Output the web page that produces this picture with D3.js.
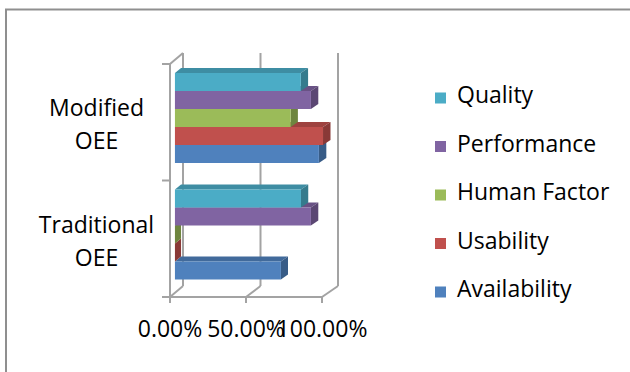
<!DOCTYPE html>
<html>
<head>
<meta charset="utf-8">
<script src="https://cdn.jsdelivr.net/npm/d3@7"></script>
<style>
  html, body { margin: 0; padding: 0; background: #fff; }
  svg { display: block; }
  text { font-family: "Open Sans", "Noto Sans", sans-serif; fill: #000; }
</style>
</head>
<body>
<svg id="chart" width="630" height="372"></svg>
<script>
// ---- data ----
const categories = ["Modified OEE", "Traditional OEE"];           // top to bottom
const seriesNames = ["Quality", "Performance", "Human Factor", "Usability", "Availability"]; // top to bottom
const quality      = [0.822, 0.823];
const performance  = [0.888, 0.888];
const humanFactor  = [0.756, 0.0];
const usability    = [0.967, 0.0];
const availability = [0.94, 0.692];
const xTicks = [0, 0.5, 1];
const xTickLabels = ["0.00%", "50.00%", "100.00%"];
const colors = ["#4BACC6", "#8064A2", "#9BBB59", "#C0504D", "#4F81BD"];

const seriesValues = [quality, performance, humanFactor, usability, availability];

const svg = d3.select("#chart");
const fontSize = 23;

// outer frame (top and left edges visible)
svg.append("line").attr("x1", 5).attr("y1", 9.5).attr("x2", 630).attr("y2", 9.5)
  .attr("stroke", "#8f8f8f").attr("stroke-width", 2);
svg.append("line").attr("x1", 6).attr("y1", 9).attr("x2", 6).attr("y2", 372)
  .attr("stroke", "#8f8f8f").attr("stroke-width", 2);

// ---- scales ----
const x = d3.scaleLinear().domain([0, 1]).range([170, 322]);
const yCat = d3.scaleBand().domain(categories).range([64, 297]);
const ySer = d3.scaleBand().domain(seriesNames).range([0, yCat.bandwidth()])
  .paddingInner(0).paddingOuter(0.736);

// depth projection
const depthDX = 13, depthDY = -11, persp = 3;
const px = (v, z) => x(v) + z * (depthDX + persp * v);
const py = (y, z) => y + z * depthDY;

const gridColor = "#a3a3a3";
const yTop = 64, yBot = 297;

const g = svg.append("g");

// back wall vertical gridlines
xTicks.forEach(t => {
  g.append("line")
    .attr("x1", px(t, 1)).attr("y1", py(yBot, 1))
    .attr("x2", px(t, 1)).attr("y2", py(yTop, 1))
    .attr("stroke", gridColor).attr("stroke-width", 2);
  // floor diagonals
  g.append("line")
    .attr("x1", px(t, 0)).attr("y1", yBot)
    .attr("x2", px(t, 1)).attr("y2", py(yBot, 1))
    .attr("stroke", gridColor).attr("stroke-width", 2);
});
// left wall top edge
g.append("line")
  .attr("x1", px(0, 0)).attr("y1", yTop)
  .attr("x2", px(0, 1)).attr("y2", py(yTop, 1))
  .attr("stroke", gridColor).attr("stroke-width", 2);

// front axes
g.append("line").attr("x1", x(0)).attr("y1", yTop).attr("x2", x(0)).attr("y2", yBot)
  .attr("stroke", gridColor).attr("stroke-width", 2);
g.append("line").attr("x1", 162).attr("y1", yBot).attr("x2", x(1)).attr("y2", yBot)
  .attr("stroke", gridColor).attr("stroke-width", 2);
// category ticks
const catBounds = [yTop].concat(categories.map(c => yCat(c) + yCat.bandwidth()));
catBounds.forEach(b => {
  g.append("line").attr("x1", 162).attr("y1", b).attr("x2", x(0)).attr("y2", b)
    .attr("stroke", gridColor).attr("stroke-width", 2);
});
// value ticks
xTicks.forEach(t => {
  g.append("line").attr("x1", x(t)).attr("y1", yBot).attr("x2", x(t)).attr("y2", yBot + 6)
    .attr("stroke", gridColor).attr("stroke-width", 2);
});

// ---- bars ----
const z0 = 0.38, z1 = 0.85;
const poly = pts => pts.map(p => p.join(",")).join(" ");

categories.forEach((cat, ci) => {
  // draw bottom series first so upper bars overlap correctly
  for (let si = seriesNames.length - 1; si >= 0; si--) {
    const v = seriesValues[si][ci];
    const yT = yCat(cat) + ySer(seriesNames[si]);
    const yB = yT + ySer.bandwidth();
    const c = d3.color(colors[si]);
    const front = [[px(0, z0), py(yT, z0)], [px(v, z0), py(yT, z0)], [px(v, z0), py(yB, z0)], [px(0, z0), py(yB, z0)]];
    const top = [[px(0, z0), py(yT, z0)], [px(0, z1), py(yT, z1)], [px(v, z1), py(yT, z1)], [px(v, z0), py(yT, z0)]];
    const side = [[px(v, z0), py(yT, z0)], [px(v, z1), py(yT, z1)], [px(v, z1), py(yB, z1)], [px(v, z0), py(yB, z0)]];
    g.append("polygon").attr("points", poly(top)).attr("fill", c.darker(0.55).formatHex());
    g.append("polygon").attr("points", poly(side)).attr("fill", c.darker(0.95).formatHex());
    g.append("polygon").attr("points", poly(front)).attr("fill", colors[si]);
  }
});

// ---- category labels ----
categories.forEach(cat => {
  const cy = yCat(cat) + yCat.bandwidth() / 2;
  const parts = cat.split(" ");
  svg.append("text").attr("x", 96.5).attr("y", cy - 6).attr("text-anchor", "middle")
    .attr("font-size", fontSize).text(parts[0]);
  svg.append("text").attr("x", 96.5).attr("y", cy + 27).attr("text-anchor", "middle")
    .attr("font-size", fontSize).text(parts[1]);
});

// ---- value tick labels ----
xTicks.forEach((t, i) => {
  svg.append("text").attr("x", x(t)).attr("y", 337).attr("text-anchor", "middle")
    .attr("font-size", fontSize).text(xTickLabels[i]);
});

// ---- legend ----
const legY = d3.scalePoint().domain(seriesNames).range([103, 297]);
seriesNames.forEach((s, i) => {
  svg.append("rect").attr("x", 435).attr("y", legY(s) - 10.5).attr("width", 11).attr("height", 11)
    .attr("fill", colors[i]);
  svg.append("text").attr("x", 457).attr("y", legY(s)).attr("font-size", fontSize).text(s);
});
</script>
</body>
</html>
